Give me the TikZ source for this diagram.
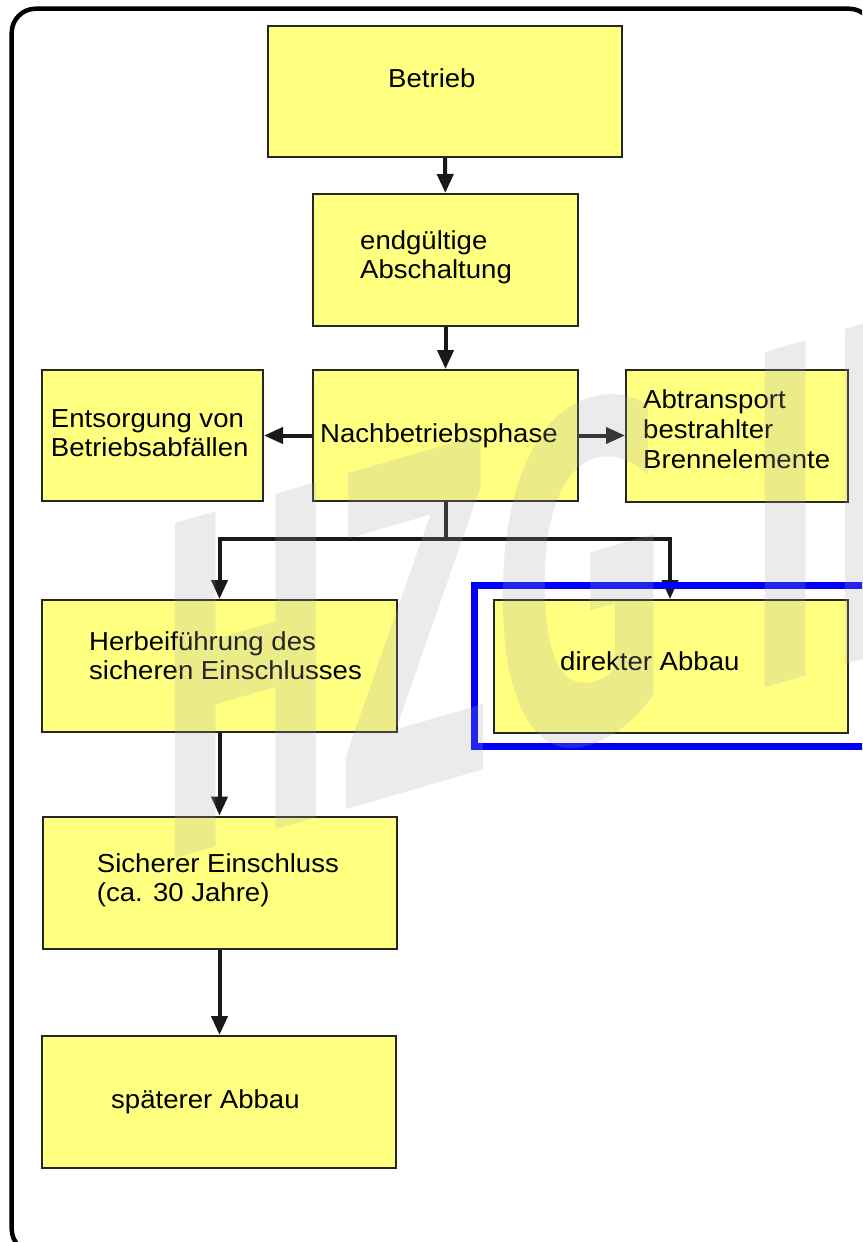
\documentclass[tikz,border=0pt]{standalone}
\usepackage{fontspec}
\setmainfont{Liberation Sans}[FakeStretch=1.06]
\newfontfamily\markfont{DejaVu Sans}
\usetikzlibrary{arrows.meta}
\definecolor{phaseyellow}{RGB}{255,255,128}
\definecolor{markgray}{RGB}{165,165,165}

\begin{document}
\begin{tikzpicture}[
        x=1pt, y=-1pt,
        phase/.style={draw=black!85, line width=2pt, fill=phaseyellow, inner sep=0pt},
        phasetext/.style={anchor=north west, inner sep=0pt, align=left, font=\fontsize{26}{29}\selectfont},
        flow/.style={draw=black!90, line width=4pt, -{Triangle[length=19pt,width=16pt]}},
        branch/.style={draw=black!90, line width=4pt},
        watermark/.style={anchor=base west, inner sep=0pt, yslant=0.29, xscale=0.47,
            text=markgray, text opacity=0.22, font=\markfont\bfseries\fontsize{460}{460}\selectfont},
        ]
    \useasboundingbox (0,0) rectangle (862,1242);
    \clip (0,0) rectangle (862,1242);
    \draw[line width=4.5pt, rounded corners=24pt] (11.7,8.7) rectangle (873,1253);

    % phases
    \node (betrieb) [phase, minimum width=354pt, minimum height=131pt] at (445,91.5) {};
    \node (abschaltung) [phase, minimum width=265pt, minimum height=132pt] at (445.5,260) {};
    \node (nachbetrieb) [phase, minimum width=265pt, minimum height=131pt] at (445.5,435.5) {};
    \node (entsorgung) [phase, minimum width=221pt, minimum height=131pt] at (152.5,435.5) {};
    \node (abtransport) [phase, minimum width=222pt, minimum height=132pt] at (737,436) {};
    \node (herbei) [phase, minimum width=355pt, minimum height=132pt] at (219.5,666) {};
    \node (direkt) [phase, minimum width=354pt, minimum height=133pt] at (671,666.5) {};
    \node (sicher) [phase, minimum width=354pt, minimum height=132.5pt] at (219.5,882.75) {};
    \node (spaeter) [phase, minimum width=354pt, minimum height=132pt] at (219,1102) {};

    \node (betrieb-t) [phasetext] at (388,68.3) {Betrieb};
    \node (abschaltung-t) [phasetext] at (360,230.3) {endgültige\\Abschaltung};
    \node (nachbetrieb-t) [phasetext] at (320,423.3) {Nachbetriebsphase};
    \node (entsorgung-t) [phasetext] at (50.7,409.6) {Entsorgung von\\Betriebsabfällen};
    \node (abtransport-t) [phasetext, font=\fontsize{26}{30}\selectfont] at (643,389.3) {Abtransport\\bestrahlter\\Brennelemente};
    \node (herbei-t) [phasetext] at (89,631.3) {Herbeiführung des\\sicheren Einschlusses};
    \node (direkt-t) [phasetext] at (560,651.3) {direkter Abbau};
    \node (sicher-t) [phasetext] at (96.7,853) {Sicherer Einschluss\\(ca. 30 Jahre)};
    \node (spaeter-t) [phasetext] at (111,1089.6) {späterer Abbau};

    \draw[flow] (betrieb) -- (abschaltung);
    \draw[flow] (abschaltung) -- (nachbetrieb);
    \draw[flow] (nachbetrieb) -- (entsorgung);
    \draw[flow] (nachbetrieb.east) -- (nachbetrieb.east -| abtransport.west);
    \draw[branch] (nachbetrieb.south) -- ++(0,37) coordinate (fork);
    \draw[flow] (fork) -| (herbei.north);
    \draw[flow] (fork) -| ([xshift=-1pt]direkt.north);
    \draw[flow] (herbei.south) -- (herbei.south |- sicher.north);
    \draw[flow] (sicher.south) -- (sicher.south |- spaeter.north);

    \draw[blue, line width=7pt] (474,585) rectangle (900,746);

    \node (hzg) [watermark] at (155,865) {HZG IN}; % on top of everything
\end{tikzpicture}
\end{document}
